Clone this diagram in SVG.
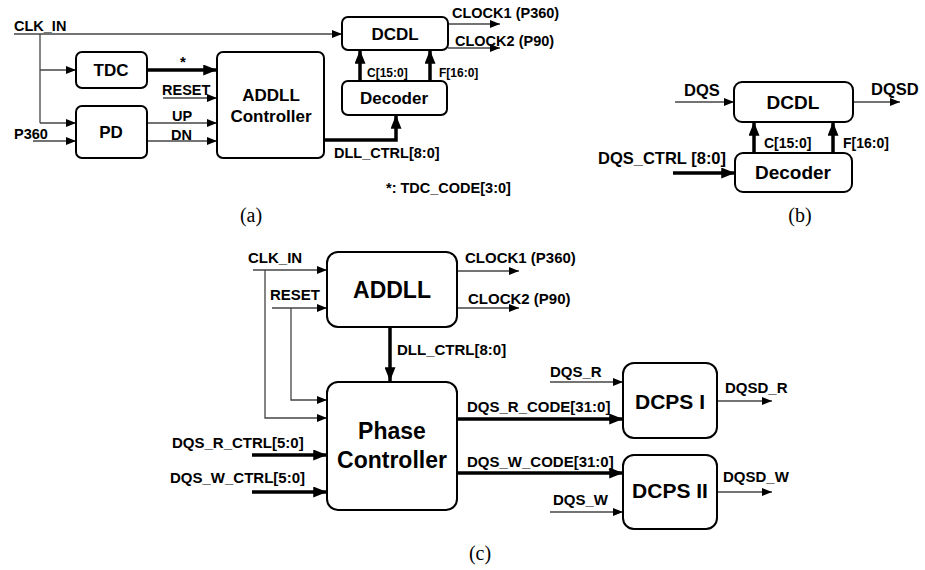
<svg xmlns="http://www.w3.org/2000/svg" width="925" height="570" viewBox="0 0 925 570">
<defs>
<marker id="ah" viewBox="0 0 10 8" refX="10" refY="4" markerWidth="11" markerHeight="8" markerUnits="userSpaceOnUse" orient="auto"><path d="M0 0L10 4L0 8Z" fill="#000"/></marker>
<marker id="ahb" viewBox="0 0 10 8" refX="10" refY="4" markerWidth="14" markerHeight="11" markerUnits="userSpaceOnUse" orient="auto"><path d="M0 0L10 4L0 8Z" fill="#000"/></marker>
</defs>
<style>
.box{fill:#fff;stroke:#000;stroke-width:2}
.t{font-family:"Liberation Sans",Arial,sans-serif;font-weight:bold;fill:#000}
.c{text-anchor:middle}
.thin{fill:none;stroke:#444;stroke-width:1.3}
.thinA{fill:none;stroke:#444;stroke-width:1.3;marker-end:url(#ah)}
.thick{fill:none;stroke:#000;stroke-width:3.5;marker-end:url(#ahb)}
.cap{font-family:"Liberation Serif","Times New Roman",serif;font-size:20px;fill:#000;text-anchor:middle}
</style>
<rect width="925" height="570" fill="#fff"/>

<!-- (a) -->
<g id="connectors-a">
<path class="thinA" d="M14 34H342"/>
<path class="thin" d="M40 34V123"/>
<path class="thinA" d="M40 70H76"/>
<path class="thinA" d="M40 123H76"/>
<path class="thinA" d="M33 141H76"/>
<path class="thick" d="M147 70H217"/>
<path class="thinA" d="M163 98H217"/>
<path class="thinA" d="M147 123H217"/>
<path class="thinA" d="M147 141H217"/>
<path class="thick" d="M324 140H396V115"/>
<path class="thick" d="M360 81V50"/>
<path class="thick" d="M430 81V50"/>
<path class="thinA" d="M448 24H500"/>
<path class="thinA" d="M448 48H500"/>
</g>
<g id="labels-a" class="t" font-size="14.5">
<text x="14" y="31">CLK_IN</text>
<text x="14" y="139">P360</text>
<text x="180" y="67" font-size="15">*</text>
<text x="162" y="95">RESET</text>
<text x="172" y="121">UP</text>
<text x="171" y="140">DN</text>
<text x="334" y="158">DLL_CTRL[8:0]</text>
<text x="452" y="18">CLOCK1 (P360)</text>
<text x="455" y="46">CLOCK2 (P90)</text>
<text x="367" y="77" font-size="12">C[15:0]</text>
<text x="439" y="77" font-size="12">F[16:0]</text>
<text x="386" y="193">*: TDC_CODE[3:0]</text>
</g>
<g id="tdc"><rect class="box" x="76" y="52" width="71" height="36" rx="6"/><text class="t c" x="111" y="76" font-size="17">TDC</text></g>
<g id="pd"><rect class="box" x="76" y="106" width="71" height="52" rx="6"/><text class="t c" x="111" y="138" font-size="17">PD</text></g>
<g id="addll-ctrl"><rect class="box" x="217" y="52" width="107" height="106" rx="6"/><text class="t c" x="271" y="101" font-size="17">ADDLL</text><text class="t c" x="271" y="122" font-size="17">Controller</text></g>
<g id="dcdl-a"><rect class="box" x="342" y="17" width="106" height="33" rx="6"/><text class="t c" x="395" y="40" font-size="17">DCDL</text></g>
<g id="decoder-a"><rect class="box" x="342" y="81" width="105" height="34" rx="6"/><text class="t c" x="394" y="104" font-size="17">Decoder</text></g>
<text class="cap" x="251" y="222">(a)</text>

<!-- (b) -->
<g id="connectors-b">
<path class="thinA" d="M675 102H734"/>
<path class="thinA" d="M853 102H900"/>
<path class="thick" d="M754 153V122"/>
<path class="thick" d="M833 153V122"/>
<path class="thick" d="M673 173H735"/>
</g>
<g id="labels-b" class="t" font-size="16.5">
<text x="684" y="96">DQS</text>
<text x="871" y="95">DQSD</text>
<text x="598" y="164">DQS_CTRL [8:0]</text>
<text x="764" y="148" font-size="14">C[15:0]</text>
<text x="843" y="148" font-size="14">F[16:0]</text>
</g>
<g id="dcdl-b"><rect class="box" x="734" y="82" width="119" height="40" rx="8"/><text class="t c" x="793" y="109" font-size="19">DCDL</text></g>
<g id="decoder-b"><rect class="box" x="735" y="153" width="117" height="39" rx="8"/><text class="t c" x="793" y="179" font-size="19">Decoder</text></g>
<text class="cap" x="800" y="222">(b)</text>

<!-- (c) -->
<g id="connectors-c">
<path class="thinA" d="M253 270H327"/>
<path class="thinA" d="M265 270V418H327"/>
<path class="thinA" d="M272 308H327"/>
<path class="thinA" d="M291 308V400H327"/>
<path class="thick" d="M390 327V381"/>
<path class="thinA" d="M457 271H519"/>
<path class="thinA" d="M457 308H519"/>
<path class="thick" d="M252 455H327"/>
<path class="thick" d="M252 492H327"/>
<path class="thinA" d="M550 382H623"/>
<path class="thick" d="M457 419H623"/>
<path class="thick" d="M457 473H623"/>
<path class="thinA" d="M550 512H623"/>
<path class="thinA" d="M717 401H772"/>
<path class="thinA" d="M717 492H772"/>
</g>
<g id="labels-c" class="t" font-size="15">
<text x="248" y="263">CLK_IN</text>
<text x="270" y="300">RESET</text>
<text x="397" y="355">DLL_CTRL[8:0]</text>
<text x="465" y="263">CLOCK1 (P360)</text>
<text x="468" y="304">CLOCK2 (P90)</text>
<text x="172" y="448">DQS_R_CTRL[5:0]</text>
<text x="170" y="483">DQS_W_CTRL[5:0]</text>
<text x="550" y="377">DQS_R</text>
<text x="467" y="412">DQS_R_CODE[31:0]</text>
<text x="467" y="467">DQS_W_CODE[31:0]</text>
<text x="553" y="505">DQS_W</text>
<text x="725" y="393">DQSD_R</text>
<text x="723" y="482">DQSD_W</text>
</g>
<g id="addll"><rect class="box" x="327" y="252" width="130" height="75" rx="11"/><text class="t c" x="392" y="298" font-size="23">ADDLL</text></g>
<g id="phase-ctrl"><rect class="box" x="327" y="382" width="130" height="128" rx="11"/><text class="t c" x="392" y="439" font-size="23">Phase</text><text class="t c" x="392" y="468" font-size="23">Controller</text></g>
<g id="dcps1"><rect class="box" x="623" y="363" width="94" height="75" rx="11"/><text class="t c" x="670" y="409" font-size="21">DCPS I</text></g>
<g id="dcps2"><rect class="box" x="623" y="455" width="94" height="74" rx="11"/><text class="t c" x="670" y="498" font-size="21">DCPS II</text></g>
<text class="cap" x="480" y="560">(c)</text>
</svg>
